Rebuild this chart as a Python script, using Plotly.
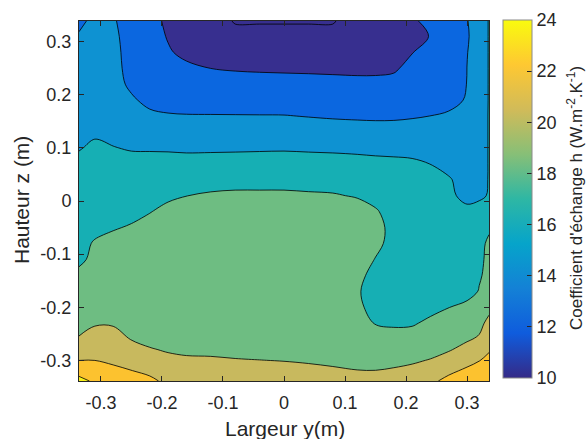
import plotly.graph_objects as go

# Horizontal positions (Largeur y, m) of the sampled columns
largeur_y = [-0.336, -0.31, -0.28, -0.25, -0.22, -0.19, -0.16, -0.12, -0.08, -0.04, 0.0,
             0.04, 0.08, 0.12, 0.15, 0.18, 0.21, 0.24, 0.27, 0.30, 0.32, 0.336]
# Vertical positions (Hauteur z, m), listed from top to bottom
hauteur_z = [0.339, 0.31, 0.28, 0.25, 0.22, 0.19, 0.16, 0.13, 0.10, 0.07, 0.04, 0.01,
             -0.02, -0.05, -0.08, -0.11, -0.14, -0.17, -0.20, -0.23, -0.26, -0.28, -0.30, -0.32, -0.339]

# Exchange coefficient h (W.m-2.K-1), one list per column (top -> bottom)
h_c00 = [13.7, 14.13, 15.0, 15.0, 15.0, 15.0, 15.0, 15.05, 15.84, 16.64, 17.0, 17.0, 17.0, 17.05, 17.4, 17.7, 18.35, 19.0, 19.0, 19.45, 20.13, 21.47, 21.98, 23.73, 24.23]
h_c01 = [14.34, 14.78, 15.0, 15.0, 15.0, 15.0, 15.0, 15.64, 16.44, 17.0, 17.0, 17.0, 17.0, 17.5, 18.18, 18.35, 18.65, 19.0, 19.15, 19.85, 20.65, 21.47, 21.98, 23.7, 23.88]
h_c02 = [14.17, 14.3, 14.39, 14.45, 14.6, 14.9, 15.0, 15.46, 16.07, 16.85, 17.0, 17.0, 17.05, 17.84, 18.63, 19.0, 19.0, 19.0, 19.15, 19.84, 20.64, 21.24, 21.77, 22.3, 22.8]
h_c03 = [13.25, 13.4, 13.47, 13.53, 13.69, 14.22, 14.8, 15.05, 15.84, 16.63, 17.0, 17.0, 17.46, 18.18, 18.98, 19.0, 19.0, 19.0, 19.0, 19.32, 19.94, 20.45, 21.5, 22.03, 22.53]
h_c04 = [12.59, 12.79, 13.0, 13.0, 13.0, 13.57, 14.33, 15.02, 15.82, 16.62, 17.0, 17.25, 17.93, 18.6, 19.0, 19.0, 19.0, 19.0, 19.0, 19.0, 19.58, 20.12, 20.65, 21.75, 22.25]
h_c05 = [11.68, 11.88, 12.18, 12.65, 13.0, 13.35, 14.15, 15.0, 15.8, 16.6, 17.0, 17.7, 18.45, 19.0, 19.0, 19.0, 19.0, 19.0, 19.0, 19.0, 19.32, 19.85, 20.39, 21.41, 21.73]
h_c06 = [11.0, 11.0, 11.58, 12.35, 13.0, 13.3, 14.09, 14.88, 15.75, 16.54, 17.18, 17.98, 18.77, 19.0, 19.0, 19.0, 19.0, 19.0, 19.0, 19.0, 19.18, 19.7, 20.24, 20.77, 21.0]
h_c07 = [11.0, 11.0, 11.2, 11.99, 12.78, 13.28, 14.08, 14.87, 15.77, 16.56, 17.4, 18.19, 18.98, 19.0, 19.0, 19.0, 19.0, 19.0, 19.0, 19.0, 19.13, 19.66, 20.2, 20.73, 21.0]
h_c08 = [9.85, 10.6, 11.07, 11.86, 12.65, 13.27, 14.07, 14.86, 15.79, 16.59, 17.48, 18.28, 19.0, 19.0, 19.0, 19.0, 19.0, 19.0, 19.0, 19.0, 19.03, 19.56, 20.09, 20.62, 21.0]
h_c09 = [9.85, 10.6, 11.0, 11.8, 12.59, 13.26, 14.06, 14.85, 15.82, 16.61, 17.48, 18.28, 19.0, 19.0, 19.0, 19.0, 19.0, 19.0, 19.0, 19.0, 19.0, 19.48, 20.02, 20.55, 21.0]
h_c10 = [9.85, 10.6, 11.0, 11.76, 12.56, 13.25, 14.05, 14.84, 15.84, 16.64, 17.48, 18.28, 19.0, 19.0, 19.0, 19.0, 19.0, 19.0, 19.0, 19.0, 19.0, 19.42, 19.95, 20.48, 20.98]
h_c11 = [9.85, 10.6, 11.0, 11.73, 12.52, 13.15, 13.95, 14.74, 15.79, 16.59, 17.41, 18.2, 19.0, 19.0, 19.0, 19.0, 19.0, 19.0, 19.0, 19.0, 19.0, 19.3, 19.84, 20.37, 20.87]
h_c12 = [9.85, 10.6, 11.0, 11.68, 12.48, 13.06, 13.86, 14.65, 15.75, 16.54, 17.34, 18.13, 18.92, 19.0, 19.0, 19.0, 19.0, 19.0, 19.0, 19.0, 19.0, 19.16, 19.69, 20.22, 20.72]
h_c13 = [11.0, 11.0, 11.0, 11.63, 12.43, 13.0, 13.8, 14.6, 15.68, 16.47, 17.08, 17.88, 18.65, 19.0, 19.0, 18.78, 18.4, 18.18, 18.33, 18.64, 19.0, 19.0, 19.52, 20.05, 20.55]
h_c14 = [11.0, 11.0, 11.0, 11.64, 12.43, 13.0, 13.77, 14.56, 15.6, 16.4, 17.0, 17.49, 18.16, 18.47, 18.35, 17.94, 17.53, 17.28, 17.45, 17.92, 18.7, 19.0, 19.5, 20.03, 20.53]
h_c15 = [11.0, 11.0, 11.1, 11.78, 12.5, 13.0, 13.78, 14.58, 15.55, 16.35, 17.0, 17.0, 17.37, 17.55, 17.53, 17.02, 17.0, 17.0, 17.0, 17.79, 18.58, 19.1, 19.63, 20.16, 20.66]
h_c16 = [11.72, 11.3, 11.95, 12.49, 13.0, 13.08, 13.87, 14.67, 15.47, 16.27, 17.0, 17.0, 17.0, 17.0, 17.0, 17.0, 17.0, 17.0, 17.05, 17.84, 18.64, 19.28, 19.81, 20.34, 20.84]
h_c17 = [12.53, 12.08, 12.59, 13.0, 13.0, 13.22, 14.01, 14.8, 15.25, 15.98, 16.71, 17.0, 17.0, 17.0, 17.0, 17.0, 17.0, 17.0, 17.58, 18.3, 19.0, 19.55, 20.07, 21.44, 21.78]
h_c18 = [13.0, 12.95, 13.02, 13.1, 13.1, 13.52, 14.22, 15.0, 15.0, 15.54, 16.14, 16.3, 16.65, 17.0, 17.0, 17.0, 17.0, 17.0, 17.97, 18.75, 19.38, 19.91, 20.45, 21.79, 22.29]
h_c19 = [13.91, 13.79, 13.94, 14.01, 14.03, 14.13, 14.6, 15.0, 15.0, 15.0, 15.4, 15.58, 16.37, 17.0, 17.01, 17.11, 17.26, 17.49, 18.35, 19.07, 19.88, 20.35, 21.66, 22.19, 22.69]
h_c20 = [15.0, 15.0, 15.0, 15.0, 15.0, 15.0, 15.2, 15.2, 15.2, 15.2, 15.3, 15.75, 16.54, 17.59, 17.6, 17.72, 17.88, 18.07, 19.0, 19.69, 20.13, 21.0, 21.95, 22.49, 22.99]
h_c21 = [16.1, 16.1, 16.1, 16.1, 16.1, 16.1, 16.1, 16.1, 16.1, 16.1, 16.1, 16.1, 16.6, 17.8, 18.25, 18.3, 18.3, 18.5, 19.7, 20.3, 21.4, 21.85, 22.39, 22.9, 23.0]

columns = [h_c00, h_c01, h_c02, h_c03, h_c04, h_c05, h_c06, h_c07, h_c08, h_c09, h_c10,
           h_c11, h_c12, h_c13, h_c14, h_c15, h_c16, h_c17, h_c18, h_c19, h_c20, h_c21]

# Ticks
x_tick_vals = [-0.3, -0.2, -0.1, 0.0, 0.1, 0.2, 0.3]
x_tick_text = ["-0.3", "-0.2", "-0.1", "0", "0.1", "0.2", "0.3"]
y_tick_vals = [-0.3, -0.2, -0.1, 0.0, 0.1, 0.2, 0.3]
y_tick_text = ["-0.3", "-0.2", "-0.1", "0", "0.1", "0.2", "0.3"]
cb_tick_vals = [10, 12, 14, 16, 18, 20, 22, 24]
cb_tick_text = ["10", "12", "14", "16", "18", "20", "22", "24"]

# Build z (rows bottom -> top)
rows_top_down = [list(r) for r in zip(*columns)]
z = rows_top_down[::-1]
y_vals = hauteur_z[::-1]

# Filled band colours (one per 2-unit band, 10..26)
band_colors = ["#372f8f", "#0b67e0", "#0e92d2", "#16afb4", "#6ebd82", "#c8b95e", "#fcc22f", "#f6f01a"]
step_scale = []
nb = len(band_colors)
for k, c in enumerate(band_colors):
    step_scale.append([k / nb, c])
    step_scale.append([(k + 1) / nb, c])

parula = [[0.0, "#352a87"], [0.125, "#0f5cdd"], [0.25, "#1481d6"], [0.375, "#06a4ca"],
          [0.5, "#2eb7a4"], [0.625, "#87bf77"], [0.75, "#d1bb59"], [0.875, "#fec832"],
          [1.0, "#f9fb0e"]]

FONT = "Liberation Sans, Arial, sans-serif"
TXT = "#262626"

fig = go.Figure()
fig.add_trace(go.Contour(
    x=largeur_y, y=y_vals, z=z,
    zmin=10, zmax=26,
    autocontour=False,
    contours=dict(start=10, end=26, size=2, coloring="fill"),
    colorscale=step_scale,
    line=dict(color="black", width=0.8, smoothing=1),
    showscale=False,
    hoverinfo="skip",
))

# Continuous colour bar (parula), as in the original
fig.add_trace(go.Scatter(
    x=[0], y=[0], mode="markers",
    marker=dict(size=1, opacity=0, color=[10], colorscale=parula, cmin=10, cmax=24,
                showscale=True,
                colorbar=dict(
                    thickness=29, thicknessmode="pixels",
                    len=358, lenmode="pixels",
                    x=(503 - 79) / 410, xanchor="left", xpad=0,
                    y=(381 - 199) / 360, yanchor="middle", ypad=0,
                    outlinewidth=1, outlinecolor="#8a8a8a",
                    tickvals=cb_tick_vals, ticktext=cb_tick_text,
                    ticks="inside", ticklen=5, tickcolor=TXT, tickwidth=1,
                    tickfont=dict(size=18, color=TXT, family=FONT),
                )),
    hoverinfo="skip", showlegend=False,
))

axis_common = dict(
    ticks="inside", ticklen=5, tickwidth=1, tickcolor=TXT,
    showline=True, linecolor=TXT, linewidth=1, mirror="ticks",
    showgrid=False, zeroline=False,
    tickfont=dict(size=18, color=TXT, family=FONT),
)

fig.update_layout(
    width=587, height=439, autosize=False,
    margin=dict(l=79, r=98, t=21, b=58, pad=0),
    paper_bgcolor="white", plot_bgcolor="white",
    font=dict(family=FONT, color=TXT),
    xaxis=dict(range=[-0.336, 0.336], tickvals=x_tick_vals, ticktext=x_tick_text,
               ticklabelstandoff=5, **axis_common),
    yaxis=dict(range=[-0.339, 0.339], tickvals=y_tick_vals, ticktext=y_tick_text,
               ticklabelstandoff=3, **axis_common),
    showlegend=False,
    annotations=[
        dict(text="Largeur y(m)", x=(284.5 - 79) / 410, y=(381 - 428) / 360,
             xref="paper", yref="paper", xanchor="center", yanchor="middle",
             showarrow=False, font=dict(size=21, color=TXT, family=FONT)),
        dict(text="Hauteur z (m)", x=(21 - 79) / 410, y=(381 - 200) / 360, textangle=-90,
             xref="paper", yref="paper", xanchor="center", yanchor="middle",
             showarrow=False, font=dict(size=21, color=TXT, family=FONT)),
        dict(text="Coefficient d'échange h (W.m<sup>-2</sup>.K<sup>-1</sup>)",
             x=(575 - 79) / 410, y=(381 - 198) / 360, textangle=-90,
             xref="paper", yref="paper", xanchor="center", yanchor="middle",
             showarrow=False, font=dict(size=17, color=TXT, family=FONT)),
    ],
)

fig.write_html(
    "out.html",
    config={"displayModeBar": False, "staticPlot": True},
    post_script="document.body.style.margin='0';document.body.style.padding='0';"
                "document.body.style.overflow='hidden';",
)
